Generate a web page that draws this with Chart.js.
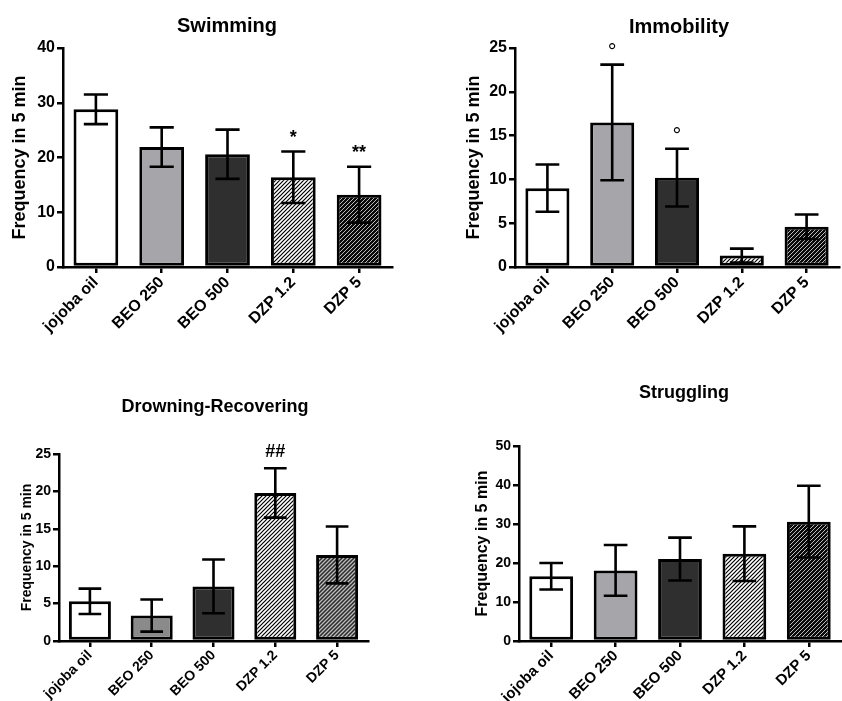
<!DOCTYPE html>
<html>
<head>
<meta charset="utf-8">
<script src="https://cdn.jsdelivr.net/npm/chart.js@4.4.1/dist/chart.umd.min.js"></script>
<style>
  body { margin: 0; background: #fff; }
  #wrap { position: relative; width: 842px; height: 701px; }
  canvas { position: absolute; }
</style>
</head>
<body>
<div id="wrap">
  <canvas id="c1" width="421" height="350" style="left:0;top:0"></canvas>
  <canvas id="c2" width="421" height="350" style="left:421px;top:0"></canvas>
  <canvas id="c3" width="421" height="351" style="left:0;top:350px"></canvas>
  <canvas id="c4" width="421" height="351" style="left:421px;top:350px"></canvas>
</div>
<script>
// groups
const categories = ["jojoba oil", "BEO 250", "BEO 500", "DZP 1.2", "DZP 5"];

// Swimming
const swimMean = [28.8, 21.9, 20.6, 16.4, 13.2];
const swimSem = [2.7, 3.6, 4.5, 4.7, 5.1];
const swimMarks = ["", "", "", "*", "**"];
const swimTicks = [0, 10, 20, 30, 40];

// Immobility
const immMean = [9.0, 16.5, 10.2, 1.3, 4.6];
const immSem = [2.7, 6.6, 3.3, 0.8, 1.4];
const immMarks = ["", "°", "°", "", ""];
const immTicks = [0, 5, 10, 15, 20, 25];

// Drowning-Recovering
const drownMean = [5.3, 3.4, 7.3, 19.8, 11.5];
const drownSem = [1.7, 2.15, 3.6, 3.3, 3.8];
const drownMarks = ["", "", "", "##", ""];
const drownTicks = [0, 5, 10, 15, 20, 25];

// Struggling
const strugMean = [16.6, 18.1, 21.0, 22.4, 30.6];
const strugSem = [3.4, 6.5, 5.5, 7.0, 9.2];
const strugMarks = ["", "", "", "", ""];
const strugTicks = [0, 10, 20, 30, 40, 50];

const family = "'Liberation Sans', Arial, Helvetica, sans-serif";
Chart.defaults.font.family = family;
Chart.defaults.font.weight = "bold";
Chart.defaults.color = "#000";

function hatch(bg, fg, lw) {
  const c = document.createElement("canvas");
  c.width = 4; c.height = 4;
  const g = c.getContext("2d");
  g.fillStyle = bg;
  g.fillRect(0, 0, 4, 4);
  g.strokeStyle = fg;
  g.lineWidth = lw;
  g.beginPath();
  g.moveTo(0, 4); g.lineTo(4, 0);
  g.moveTo(-1, 1); g.lineTo(1, -1);
  g.moveTo(3, 5); g.lineTo(5, 3);
  g.stroke();
  return g.createPattern(c, "repeat");
}

// error bars, significance marks and panel title
const panelPlugin = {
  id: "panel",
  afterDatasetsDraw(chart, args, opts) {
    const ctx = chart.ctx;
    const y = chart.scales.y;
    const vals = chart.data.datasets[0].data;
    ctx.save();
    ctx.strokeStyle = "#000";
    ctx.fillStyle = "#000";
    ctx.lineWidth = 2.6;
    chart.getDatasetMeta(0).data.forEach((bar, i) => {
      const top = y.getPixelForValue(vals[i] + opts.sem[i]);
      const bot = y.getPixelForValue(vals[i] - opts.sem[i]);
      const hw = bar.width * 0.27;
      ctx.beginPath();
      ctx.moveTo(bar.x, top); ctx.lineTo(bar.x, bot);
      ctx.moveTo(bar.x - hw, top); ctx.lineTo(bar.x + hw, top);
      ctx.moveTo(bar.x - hw, bot); ctx.lineTo(bar.x + hw, bot);
      ctx.stroke();
      const m = opts.marks[i];
      if (m) {
        const size = m === "°" ? 22 : 18;
        ctx.font = (m === "°" ? "normal " : "bold ") + size + "px " + family;
        ctx.textAlign = "center";
        ctx.textBaseline = "alphabetic";
        const tm = ctx.measureText(m);
        ctx.fillText(m, bar.x, top - 18 + (tm.actualBoundingBoxAscent - tm.actualBoundingBoxDescent) / 2);
      }
    });
    ctx.font = "bold " + opts.titleSize + "px " + family;
    ctx.textAlign = "center";
    ctx.textBaseline = "alphabetic";
    ctx.fillText(opts.title, opts.titleX, opts.titleY);
    ctx.restore();
  }
};

function makePanel(p) {
  const canvas = document.getElementById(p.id);
  const ctx = canvas.getContext("2d");
  const light = hatch("#ffffff", "#000000", 1.2);
  const dark = p.darkHatch === "grey" ? hatch("#2a2a2a", "#bdbdbd", 1.3) : hatch("#0a0a0a", "#e8e8e8", 0.8);
  const fills = ["#ffffff", p.beoGrey, "#2f2f2f", light, dark];
  new Chart(ctx, {
    type: "bar",
    data: {
      labels: categories,
      datasets: [{
        data: p.mean,
        backgroundColor: fills,
        borderColor: "#000",
        borderWidth: 3,
        borderSkipped: false,
        barPercentage: 0.68,
        categoryPercentage: 1
      }]
    },
    options: {
      responsive: false,
      animation: false,
      layout: { padding: { left: 0, top: p.area.top, right: canvas.width - p.area.right, bottom: 0 } },
      plugins: {
        legend: { display: false },
        tooltip: { enabled: false },
        panel: { sem: p.sem, marks: p.marks, title: p.title, titleX: p.titleX, titleY: p.titleY, titleSize: p.titleSize }
      },
      scales: {
        x: {
          offset: true,
          afterFit: (s) => { s.height = canvas.height - p.area.bottom; },
          grid: { display: true, drawOnChartArea: false, drawTicks: true, tickLength: 6, color: "#000", lineWidth: 2.5, offset: false },
          border: { display: true, color: "#000", width: 2.5 },
          ticks: { color: "#000", font: { size: p.labelSize, weight: "bold" }, minRotation: 45, maxRotation: 45, padding: 0 }
        },
        y: {
          min: p.ticks[0],
          max: p.ticks[p.ticks.length - 1],
          afterFit: (s) => { s.width = p.area.left; },
          afterBuildTicks: (s) => { s.ticks = p.ticks.map((v) => ({ value: v })); },
          grid: { display: true, drawOnChartArea: false, drawTicks: true, tickLength: 6, color: "#000", lineWidth: 2.5 },
          border: { display: true, color: "#000", width: 2.5 },
          ticks: { color: "#000", font: { size: p.tickSize, weight: "bold" }, padding: 2 },
          title: { display: true, text: "Frequency in 5 min", color: "#000", font: { size: p.yTitleSize, weight: "bold" }, padding: { top: p.yTitlePad, bottom: 0 } }
        }
      }
    },
    plugins: [panelPlugin]
  });
}

makePanel({ id: "c1", title: "Swimming", titleX: 227, titleY: 32, titleSize: 20,
  mean: swimMean, sem: swimSem, marks: swimMarks, ticks: swimTicks,
  area: { left: 63, right: 392, top: 48, bottom: 267 },
  tickSize: 16, labelSize: 16, yTitleSize: 18, yTitlePad: 9, beoGrey: "#a6a5a9", darkHatch: "black" });

makePanel({ id: "c2", title: "Immobility", titleX: 258, titleY: 33, titleSize: 20,
  mean: immMean, sem: immSem, marks: immMarks, ticks: immTicks,
  area: { left: 94, right: 418, top: 48, bottom: 267 },
  tickSize: 16, labelSize: 16, yTitleSize: 18, yTitlePad: 42, beoGrey: "#a6a5a9", darkHatch: "black" });

makePanel({ id: "c3", title: "Drowning-Recovering", titleX: 215, titleY: 62, titleSize: 18,
  mean: drownMean, sem: drownSem, marks: drownMarks, ticks: drownTicks,
  area: { left: 59, right: 368, top: 104, bottom: 291 },
  tickSize: 14, labelSize: 14, yTitleSize: 14, yTitlePad: 19, beoGrey: "#8a8a8a", darkHatch: "grey" });

makePanel({ id: "c4", title: "Struggling", titleX: 263, titleY: 48, titleSize: 18,
  mean: strugMean, sem: strugSem, marks: strugMarks, ticks: strugTicks,
  area: { left: 98, right: 420, top: 96, bottom: 291 },
  tickSize: 14, labelSize: 15, yTitleSize: 16, yTitlePad: 52, beoGrey: "#a6a5a9", darkHatch: "black" });
</script>
</body>
</html>
